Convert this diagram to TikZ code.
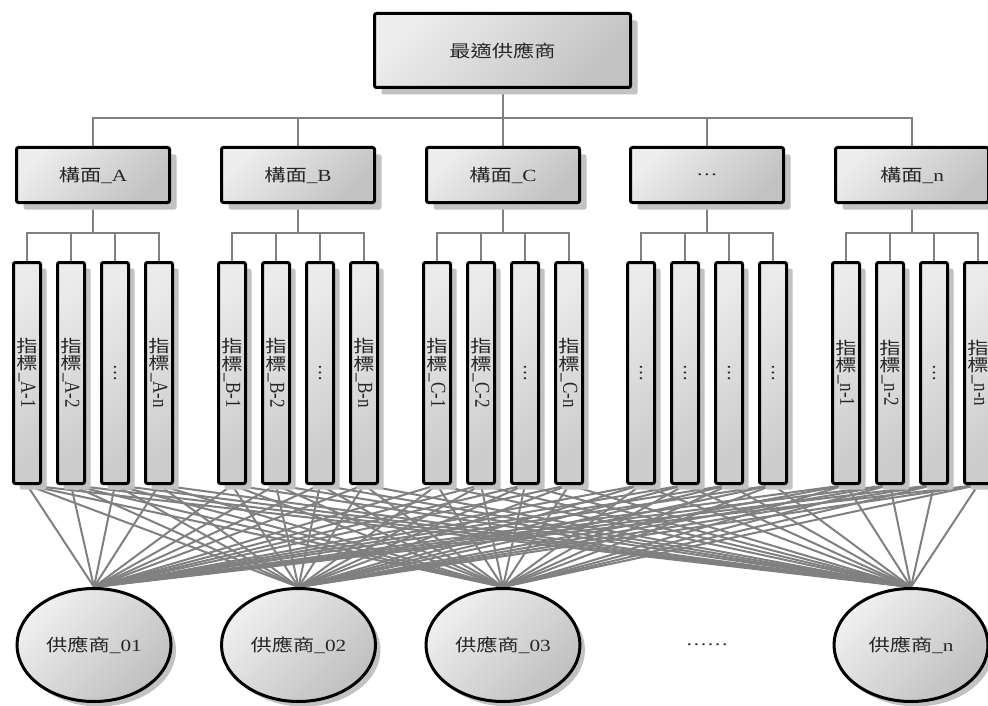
\documentclass[tikz,border=0pt]{standalone}
\usepackage{fontspec}
\setmainfont{Liberation Serif}
\newfontfamily\cjk{Noto Sans CJK TC}
\usetikzlibrary{shapes.geometric,shadows,backgrounds}

% labels are set a little wider than tall
\newcommand\wide[1]{\scalebox{1.25}[1]{#1}}
% vertical label: upright CJK, Latin part turned clockwise
\newcommand\leaftext[1]{\wide{\vbox{\baselineskip=0pt\lineskiplimit=0pt\lineskip=2pt
  \halign{\hfil##\hfil\cr{\cjk 指}\cr{\cjk 標}\cr\rotatebox{-90}{\_#1}\cr}}}}
\newcommand\vdotsmark{\wide{\rotatebox{-90}{…}}}

\tikzset{
  boxshadow/.style={drop shadow={shadow xshift=#1, shadow yshift=-#1, fill=black!24, opacity=1}},
  panel/.style={draw=black, line width=3pt, rounded corners=2pt,
    top color=black!7, bottom color=black!24, shading angle=45,
    text=black!85, font=\fontsize{17}{20}\selectfont, inner sep=0pt},
  goalbox/.style={panel, boxshadow=7pt, minimum width=256pt, minimum height=74pt},
  facetbox/.style={panel, boxshadow=7pt, minimum width=153pt, minimum height=55pt},
  leafbox/.style={panel, top color=black!8, bottom color=black!20, shading angle=45,
    boxshadow=6pt, minimum width=27pt, minimum height=221pt},
  supplier/.style={ellipse, draw=black, line width=3pt,
    top color=black!6, bottom color=black!25, shading angle=45,
    boxshadow=5pt, minimum width=154pt, minimum height=113pt, inner sep=0pt,
    text=black!85, font=\fontsize{17}{20}\selectfont},
  gaptext/.style={text=black!85, font=\fontsize{17}{20}\selectfont, inner sep=0pt},
  bus/.style={draw=black!50, line width=2pt},
  wire/.style={draw=black!50, line width=2pt}
}

\begin{document}
\begin{tikzpicture}[x=1pt,y=-1pt]
\useasboundingbox (0,0) rectangle (988,706);

% goal
\node[goalbox] (top) at (502.5,50.5) {\wide{\cjk 最適供應商}};

% facets
\node[facetbox] (ga) at (93,175)  {\wide{{\cjk 構面}\_A}};
\node[facetbox] (gb) at (298,175) {\wide{{\cjk 構面}\_B}};
\node[facetbox] (gc) at (503,175) {\wide{{\cjk 構面}\_C}};
\node[facetbox] (gd) at (707,175) {\wide{…}};
\node[facetbox] (gn) at (912,175) {\wide{{\cjk 構面}\_n}};

% indicators
\foreach \g/\x/\L in {a/93/A,b/298/B,c/503/C,n/912/n} {
  \node[leafbox] (\g1) at (\x-66,373) {\leaftext{\L-1}};
  \node[leafbox] (\g2) at (\x-22,373) {\leaftext{\L-2}};
  \node[leafbox] (\g3) at (\x+22,373) {\vdotsmark};
  \node[leafbox] (\g4) at (\x+66,373) {\leaftext{\L-n}};
}
\node[leafbox] (d1) at (641,373) {\vdotsmark};
\node[leafbox] (d2) at (685,373) {\vdotsmark};
\node[leafbox] (d3) at (729,373) {\vdotsmark};
\node[leafbox] (d4) at (773,373) {\vdotsmark};

% suppliers
\node[supplier] (s1) at (94,645)    {\wide{{\cjk 供應商}\_01}};
\node[supplier] (s2) at (298.5,645) {\wide{{\cjk 供應商}\_02}};
\node[supplier] (s3) at (503,645)   {\wide{{\cjk 供應商}\_03}};
\node[supplier] (sn) at (911,645)   {\wide{{\cjk 供應商}\_n}};
\node[gaptext] (gap) at (707,645) {\wide{……}};

% connectors
\begin{scope}[on background layer]
  \coordinate (bus0) at (0,118);
  \coordinate (bus1) at (0,233);
  \foreach \g in {ga,gb,gc,gd,gn}
    \draw[bus] (\g.north) |- (top.south |- bus0) -- (top.south);
  \foreach \g in {a,b,c,d,n}
    \foreach \i in {1,...,4}
      \draw[bus] (\g\i.north) |- (g\g.south |- bus1) -- (g\g.south);
  \foreach \g in {a,b,c,d,n}
    \foreach \i in {1,...,4}
      \foreach \s in {s1,s2,s3,sn}
        \draw[wire] (\g\i.south) -- (\s.north);
\end{scope}
\end{tikzpicture}
\end{document}
